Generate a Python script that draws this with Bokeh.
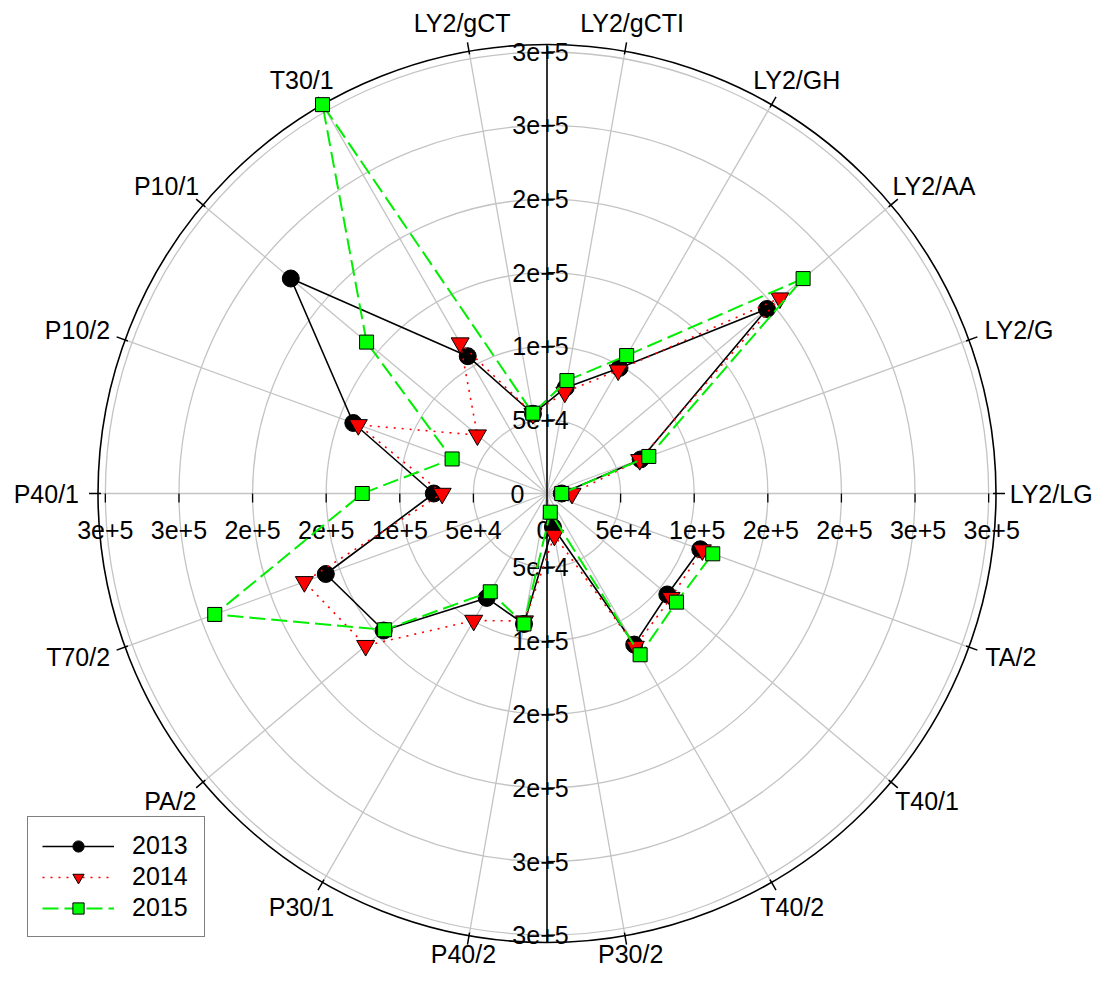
import numpy as np
from bokeh.plotting import figure
from bokeh.models import Range1d, Legend, LegendItem
from bokeh.core.properties import value
from bokeh.embed import file_html
from bokeh.resources import INLINE

# ---------------- data ----------------
categories = ["LY2/LG", "LY2/G", "LY2/AA", "LY2/GH", "LY2/gCTI", "LY2/gCT",
              "T30/1", "P10/1", "P10/2", "P40/1", "T70/2", "PA/2",
              "P30/1", "P40/2", "P30/2", "T40/2", "T40/1", "TA/2"]
v2013 = [10000, 67700, 195000, 98500, 73000, 55000,
         107700, 227200, 140000, 76900, 159900, 144800,
         81900, 90000, 23100, 118500, 106700, 110800]
v2014 = [17000, 67000, 206500, 96700, 69800, 55000,
         118000, 61700, 136400, 71200, 175400, 160800,
         99600, 88000, 28900, 120000, 110000, 112300]
v2015 = [10000, 73600, 227100, 108200, 77900, 55400,
         305000, 160000, 68600, 125500, 240200, 144000,
         77100, 90000, 12900, 126500, 114800, 119800]
years = ["2013", "2014", "2015"]
radial_ticks = [0, 50000, 100000, 150000, 200000, 250000, 300000]
radial_tick_labels = ["0", "5e+4", "1e+5", "2e+5", "2e+5", "3e+5", "3e+5"]
R_MAX = 305000

# ---------------- layout ----------------
W, H = 1096, 970
CX, CY = 546.5, 493.0          # canvas px of the pole
R_PX = 449.0                   # outer circle radius in px
U = R_MAX / R_PX               # data units per px
FONT = "Liberation Sans"
FSN = 25
FS = f"{FSN}px"
GRID = "#c4c4c4"

p = figure(width=W, height=H,
           x_range=Range1d(-CX * U, (W - CX) * U),
           y_range=Range1d(-(H - CY) * U, CY * U),
           output_backend="svg", toolbar_location=None, min_border=0)
p.axis.visible = False
p.grid.visible = False
p.outline_line_color = None
p.background_fill_color = "white"

N = len(categories)
theta = np.arange(N) * 2 * np.pi / N
cos_t, sin_t = np.cos(theta), np.sin(theta)

# grid circles
grid_r = radial_ticks[1:]
p.circle(x=[0] * len(grid_r), y=[0] * len(grid_r), radius=grid_r,
         fill_color=None, line_color=GRID, line_width=1.3)
# spokes
p.segment(x0=[0] * N, y0=[0] * N, x1=list(R_MAX * cos_t), y1=list(R_MAX * sin_t),
          line_color=GRID, line_width=1.3)
# outer circle
p.circle(x=[0], y=[0], radius=[R_MAX], fill_color=None, line_color="black", line_width=1.6)
# angular ticks
p.segment(x0=list((R_MAX - 3 * U) * cos_t), y0=list((R_MAX - 3 * U) * sin_t),
          x1=list((R_MAX + 9 * U) * cos_t), y1=list((R_MAX + 9 * U) * sin_t),
          line_color="black", line_width=1.5)
# vertical radial axis line
p.segment(x0=[0], y0=[-R_MAX], x1=[0], y1=[R_MAX], line_color="black", line_width=1.6)

rt = np.array(radial_ticks[1:], dtype=float)
n_rt = len(rt)
# ticks on vertical axis (top & bottom)
p.segment(x0=[0] * (2 * n_rt), y0=list(rt) + list(-rt),
          x1=[8 * U] * (2 * n_rt), y1=list(rt) + list(-rt), line_color="black", line_width=1.3)
# ticks on horizontal axis (right & left)
p.segment(x0=list(rt) + list(-rt), y0=[0] * (2 * n_rt),
          x1=list(rt) + list(-rt), y1=[-9 * U] * (2 * n_rt), line_color="black", line_width=1.3)

# radial tick labels
lbls = radial_tick_labels[1:]
common = dict(text_font=value(FONT), text_font_size=FS, text_color="black",
              text_align="center", text_baseline="middle")
p.text(x=list(rt + 3 * U), y=[-36 * U] * n_rt, text=lbls, **common)
p.text(x=list(-rt), y=[-36 * U] * n_rt, text=lbls, **common)
p.text(x=[-6.5 * U] * n_rt, y=list(rt), text=lbls, **common)
p.text(x=[-6.5 * U] * n_rt, y=list(-rt), text=lbls, **common)
p.text(x=[-29.5 * U, -3.5 * U], y=[0, -36 * U], text=[radial_tick_labels[0]] * 2, **common)

# angular category labels (kept inside the canvas)
CHAR_W = {"L": 556, "Y": 667, "2": 556, "/": 278, "G": 778, "A": 667, "H": 722,
          "g": 556, "C": 722, "T": 611, "I": 278, "P": 667, "0": 556, "1": 556,
          "3": 556, "4": 556, "7": 556}
lab_x, lab_y = [], []
for k, name in enumerate(categories):
    w = sum(CHAR_W.get(ch, 556) for ch in name) / 1000 * FSN
    c, s = cos_t[k], sin_t[k]
    r0 = 468.0
    px = CX + r0 * c + np.sign(c) * abs(c) ** 1.5 * w / 2
    py = CY - (r0 * s + s * 10)
    px = min(px, W - 3 - w / 2)
    px = max(px, 3 + w / 2)
    py = min(py, H - 4 - FSN / 2)
    py = max(py, 4 + FSN / 2)
    lab_x.append((px - CX) * U)
    lab_y.append((CY - py) * U)
p.text(x=lab_x, y=lab_y, text=categories, **common)

# ---------------- series ----------------
def xy(vals):
    v = np.array(vals, dtype=float)
    return list(v * cos_t), list(v * sin_t)

x13, y13 = xy(v2013)
x14, y14 = xy(v2014)
x15, y15 = xy(v2015)

l13 = p.line(x13, y13, line_color="black", line_width=1.6)
m13 = p.scatter(x13, y13, marker="circle", size=17, fill_color="black", line_color="black")
l14 = p.line(x14, y14, line_color="#ff0000", line_width=1.6, line_dash="2 6")
m14 = p.scatter(x14, y14, marker="inverted_triangle", size=18, fill_color="#ff0000",
                line_color="black", line_width=1)
l15 = p.line(x15, y15, line_color="#00ee00", line_width=2, line_dash="16 6")
m15 = p.scatter(x15, y15, marker="square", size=14, fill_color="#00ff00",
                line_color="black", line_width=1)

legend = Legend(items=[LegendItem(label=years[0], renderers=[l13, m13]),
                       LegendItem(label=years[1], renderers=[l14, m14]),
                       LegendItem(label=years[2], renderers=[l15, m15])],
                location=(27, 33), orientation="vertical",
                glyph_width=72, glyph_height=28, label_standoff=18, label_width=58,
                label_height=28, spacing=2, padding=14, margin=0,
                label_text_font=FONT, label_text_font_size=FS, label_text_color="black",
                border_line_color="black", border_line_width=1.5,
                background_fill_color="white", background_fill_alpha=1.0)
p.add_layout(legend)

open("out.html", "w").write(file_html(p, INLINE))
